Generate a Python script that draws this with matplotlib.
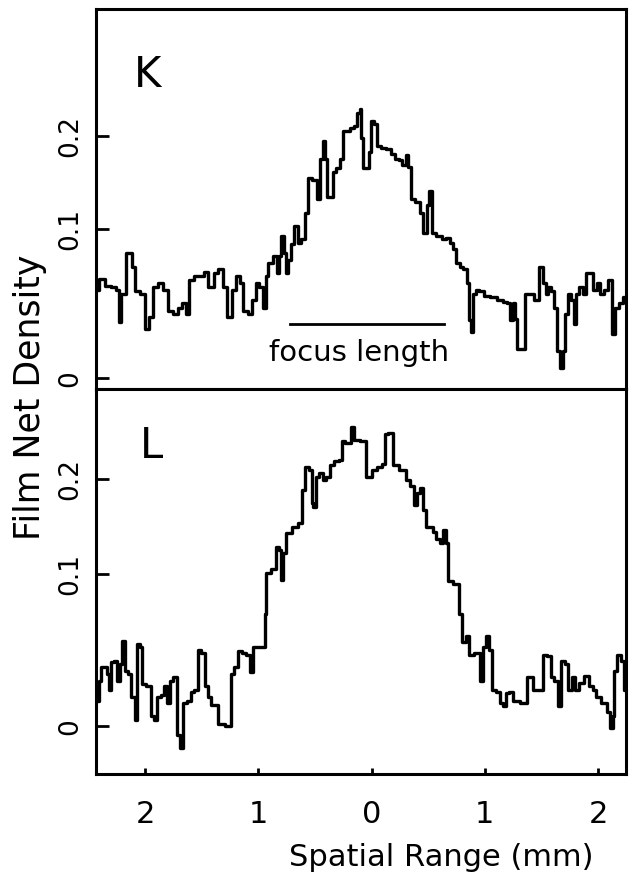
import numpy as np
import matplotlib
matplotlib.use("Agg")
import matplotlib.pyplot as plt

# ---------------- data ----------------
k_x = [-2.429, -2.383, -2.336, -2.275, -2.244, -2.228, -2.198, -2.136, -2.105, -2.074,
       -2.028, -1.981, -1.951, -1.920, -1.858, -1.827, -1.781, -1.735, -1.688, -1.657,
       -1.627, -1.596, -1.549, -1.503, -1.457, -1.441, -1.410, -1.380, -1.333, -1.302,
       -1.256, -1.210, -1.179, -1.148, -1.117, -1.071, -1.040, -1.009, -0.978, -0.948,
       -0.926, -0.907, -0.886, -0.855, -0.824, -0.809, -0.790, -0.762, -0.747, -0.725,
       -0.701, -0.670, -0.639, -0.608, -0.577, -0.546, -0.500, -0.469, -0.444, -0.423,
       -0.401, -0.386, -0.355, -0.330, -0.299, -0.269, -0.238, -0.207, -0.176, -0.136,
       -0.114, -0.099, -0.083, -0.068, -0.037, -0.012, 0.009, 0.040, 0.062, 0.102,
       0.148, 0.194, 0.225, 0.256, 0.287, 0.318, 0.333, 0.364, 0.410, 0.441,
       0.472, 0.503, 0.519, 0.549, 0.596, 0.642, 0.673, 0.704, 0.735, 0.765,
       0.796, 0.827, 0.852, 0.867, 0.883, 0.904, 0.935, 0.966, 1.012, 1.074,
       1.136, 1.182, 1.213, 1.235, 1.259, 1.275, 1.296, 1.346, 1.367, 1.414,
       1.460, 1.500, 1.522, 1.552, 1.574, 1.599, 1.630, 1.654, 1.677, 1.698,
       1.716, 1.747, 1.778, 1.799, 1.821, 1.852, 1.883, 1.914, 1.944, 1.975,
       2.006, 2.037, 2.068, 2.108, 2.139, 2.170, 2.201, 2.247]
k_y = [0.052, 0.060, 0.055, 0.054, 0.052, 0.031, 0.049, 0.080, 0.069, 0.051,
       0.049, 0.027, 0.034, 0.054, 0.057, 0.052, 0.038, 0.036, 0.040, 0.043,
       0.036, 0.059, 0.062, 0.062, 0.065, 0.054, 0.054, 0.064, 0.067, 0.054,
       0.034, 0.052, 0.062, 0.057, 0.038, 0.036, 0.045, 0.057, 0.054, 0.040,
       0.062, 0.072, 0.072, 0.077, 0.064, 0.077, 0.094, 0.080, 0.064, 0.074,
       0.087, 0.103, 0.088, 0.091, 0.115, 0.150, 0.148, 0.128, 0.172, 0.193,
       0.172, 0.130, 0.130, 0.157, 0.161, 0.172, 0.206, 0.206, 0.210, 0.213,
       0.231, 0.236, 0.197, 0.161, 0.161, 0.180, 0.219, 0.215, 0.187, 0.185,
       0.183, 0.178, 0.172, 0.170, 0.165, 0.176, 0.163, 0.128, 0.125, 0.115,
       0.097, 0.122, 0.137, 0.097, 0.094, 0.091, 0.092, 0.088, 0.083, 0.072,
       0.069, 0.067, 0.057, 0.032, 0.025, 0.049, 0.052, 0.051, 0.048, 0.047,
       0.045, 0.044, 0.043, 0.032, 0.043, 0.033, 0.015, 0.015, 0.049, 0.049,
       0.045, 0.069, 0.057, 0.049, 0.054, 0.051, 0.040, 0.014, 0.005, 0.014,
       0.036, 0.049, 0.045, 0.030, 0.049, 0.054, 0.049, 0.064, 0.064, 0.052,
       0.057, 0.049, 0.052, 0.059, 0.024, 0.040, 0.043, 0.047]

l_x = [-2.415, -2.400, -2.375, -2.354, -2.332, -2.314, -2.292, -2.262, -2.231, -2.215,
       -2.191, -2.169, -2.138, -2.108, -2.077, -2.062, -2.037, -2.015, -1.969, -1.938,
       -1.908, -1.877, -1.846, -1.822, -1.791, -1.769, -1.738, -1.708, -1.686, -1.646,
       -1.615, -1.585, -1.554, -1.523, -1.492, -1.462, -1.431, -1.400, -1.369, -1.338,
       -1.262, -1.231, -1.200, -1.169, -1.123, -1.092, -1.062, -1.031, -0.954, -0.938,
       -0.923, -0.862, -0.831, -0.806, -0.791, -0.769, -0.738, -0.677, -0.631, -0.600,
       -0.569, -0.538, -0.523, -0.508, -0.477, -0.446, -0.415, -0.385, -0.354, -0.308,
       -0.277, -0.252, -0.222, -0.200, -0.169, -0.138, -0.062, -0.037, -0.015, 0.015,
       0.077, 0.108, 0.129, 0.169, 0.200, 0.292, 0.308, 0.369, 0.385, 0.415,
       0.446, 0.468, 0.492, 0.523, 0.554, 0.585, 0.615, 0.646, 0.662, 0.692,
       0.754, 0.785, 0.815, 0.846, 0.877, 0.938, 0.969, 1.000, 1.022, 1.046,
       1.077, 1.123, 1.154, 1.169, 1.200, 1.231, 1.262, 1.354, 1.385, 1.415,
       1.446, 1.492, 1.538, 1.569, 1.600, 1.631, 1.662, 1.692, 1.723, 1.754,
       1.785, 1.815, 1.846, 1.908, 1.938, 1.969, 2.000, 2.062, 2.092, 2.123,
       2.138, 2.154, 2.185, 2.215, 2.246]
l_y = [0.013, 0.024, 0.032, 0.032, 0.028, 0.019, 0.035, 0.036, 0.024, 0.034,
       0.049, 0.030, 0.028, 0.015, 0.003, 0.047, 0.045, 0.022, 0.021, 0.005,
       0.003, 0.015, 0.016, 0.021, 0.012, 0.024, 0.026, -0.004, -0.010, 0.012,
       0.013, 0.018, 0.019, 0.043, 0.041, 0.021, 0.015, 0.011, 0.011, 0.001,
       0.000, 0.028, 0.032, 0.042, 0.041, 0.040, 0.029, 0.045, 0.045, 0.068,
       0.101, 0.105, 0.125, 0.122, 0.095, 0.119, 0.139, 0.145, 0.149, 0.187,
       0.216, 0.212, 0.171, 0.167, 0.203, 0.207, 0.199, 0.203, 0.218, 0.223,
       0.225, 0.251, 0.248, 0.248, 0.273, 0.253, 0.251, 0.203, 0.203, 0.212,
       0.216, 0.220, 0.261, 0.263, 0.218, 0.212, 0.199, 0.191, 0.169, 0.183,
       0.189, 0.163, 0.145, 0.145, 0.140, 0.133, 0.129, 0.142, 0.129, 0.094,
       0.092, 0.068, 0.048, 0.052, 0.040, 0.041, 0.024, 0.045, 0.052, 0.043,
       0.019, 0.018, 0.012, 0.010, 0.017, 0.018, 0.013, 0.012, 0.026, 0.026,
       0.019, 0.019, 0.040, 0.039, 0.026, 0.024, 0.010, 0.036, 0.034, 0.019,
       0.026, 0.019, 0.023, 0.027, 0.021, 0.019, 0.015, 0.012, 0.007, -0.001,
       0.005, 0.030, 0.040, 0.036, 0.019]

x_ticks = [-2, -1, 0, 1, 2]
x_tick_labels = ["2", "1", "0", "1", "2"]
y_ticks = [0, 0.1, 0.2]
y_tick_labels = ["0", "0.1", "0.2"]
focus_bar_x = [-0.72, 0.64]
focus_bar_y = [0.030, 0.030]

# ---------------- style ----------------
plt.rcParams['font.family'] = ['DejaVu Sans']
C = 0.125


def fwd(y):
    return np.log(np.maximum(np.asarray(y) + C, 1e-9))


def inv(u):
    return np.exp(u) - C


fig = plt.figure(figsize=(6.33, 8.81), dpi=100)
left, width = 96 / 633, 530 / 633
ax_top = fig.add_axes([left, 1 - 388.5 / 881, width, 379.5 / 881])
ax_bot = fig.add_axes([left, 1 - 774 / 881, width, 385.5 / 881], sharex=ax_top)

LW_FRAME = 2.2
for ax, xs, ys, lim, letter, lpos in [
        (ax_top, k_x, k_y, (-0.005, 0.411), "K", (0.097, 0.826)),
        (ax_bot, l_x, l_y, (-0.021, 0.336), "L", (0.104, 0.852))]:
    ax.set_yscale('function', functions=(fwd, inv))
    ax.plot(xs, ys, color='black', lw=2.4, drawstyle='steps-mid',
            solid_joinstyle='round')
    ax.set_ylim(*lim)
    ax.set_yticks(y_ticks)
    ax.set_yticklabels(y_tick_labels, rotation=90, va='center')
    ax.yaxis.set_minor_locator(matplotlib.ticker.NullLocator())
    ax.tick_params(axis='y', direction='in', length=9, width=2, labelsize=19, pad=9)
    for s in ax.spines.values():
        s.set_linewidth(LW_FRAME)
    ax.text(lpos[0], lpos[1], letter, transform=ax.transAxes, fontsize=30,
            ha='center', va='center')

ax_bot.set_xlim(-2.436, 2.248)
ax_bot.set_xticks(x_ticks)
ax_bot.set_xticklabels(x_tick_labels)
ax_bot.tick_params(axis='x', direction='in', length=4, width=2, labelsize=22, pad=19)
ax_top.tick_params(axis='x', bottom=False, labelbottom=False)

# focus length marker
ax_top.plot(focus_bar_x, focus_bar_y, color='black', lw=2)
ax_top.text(-0.11, 0.013, "focus length", fontsize=21, ha='center', va='center')

fig.text(30 / 633, 1 - 397 / 881, "Film Net Density", rotation=90,
         fontsize=25, ha='center', va='center')
fig.text(441 / 633, 1 - 858 / 881, "Spatial Range (mm)", fontsize=22,
         ha='center', va='center')

fig.savefig("out.png", dpi=100)
